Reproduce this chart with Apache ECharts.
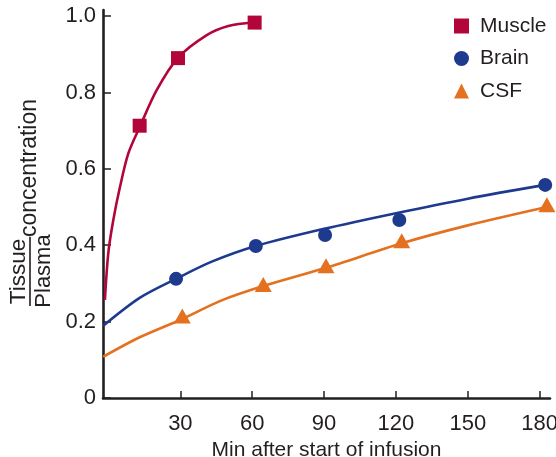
<!DOCTYPE html>
<html>
<head>
<meta charset="utf-8">
<script src="https://cdn.jsdelivr.net/npm/echarts@6/dist/echarts.min.js"></script>
<style>
html,body{margin:0;padding:0;background:#fff;}
#chart{width:556px;height:457px;}
</style>
</head>
<body>
<div id="chart"></div>
<script>
// ---- data ----
const xTicks = [30, 60, 90, 120, 150, 180];
const yTicks = [0, 0.2, 0.4, 0.6, 0.8, 1.0];

const muscleMin = [13, 29, 61];
const muscleVal = [0.713, 0.89, 0.983];
const brainMin = [28.2, 61.5, 90.4, 121.4, 182.3];
const brainVal = [0.312, 0.398, 0.427, 0.466, 0.558];
const csfMin = [30.8, 64.6, 90.8, 122.4, 183];
const csfVal = [0.215, 0.297, 0.346, 0.412, 0.506];

// fitted curves
const muscleCurveMin = [-1.5, -0.1, 2, 4.8, 8.3, 13.2, 20.1, 28.9, 41, 50, 60.8];
const muscleCurveVal = [0.257, 0.379, 0.466, 0.553, 0.641, 0.712, 0.806, 0.89, 0.95, 0.974, 0.984];
const brainCurveMin = [-2.2, 13, 28.2, 43.1, 61.5, 90, 120, 150, 182.3];
const brainCurveVal = [0.189, 0.262, 0.312, 0.357, 0.398, 0.443, 0.484, 0.522, 0.558];
const csfCurveMin = [-2.2, 13, 30.8, 47, 64.6, 90.8, 122.4, 150, 183];
const csfCurveVal = [0.108, 0.159, 0.207, 0.255, 0.293, 0.341, 0.405, 0.452, 0.5];

const seriesNames = ['Muscle', 'Brain', 'CSF'];
const xName = 'Min after start of infusion';
const yNameTop = 'Tissue';
const yNameBottom = 'Plasma';
const yNameRest = 'concentration';

// ---- styling ----
const FONT = '"Liberation Sans", Arial, Helvetica, sans-serif';
const INK = '#231F20';
const C_MUSCLE = '#B2063B';
const C_BRAIN = '#1E3A8F';
const C_CSF = '#E3711F';

const zip = (a, b) => a.map((v, i) => [v, b[i]]);

const chart = echarts.init(document.getElementById('chart'), null, {renderer: 'canvas'});

function curve(name, color, xs, ys) {
  return {
    name: name, type: 'line', data: zip(xs, ys), showSymbol: false, silent: true,
    smooth: 0.3,
    lineStyle: {color: color, width: 2.6}, itemStyle: {color: color}, z: 2
  };
}
function points(name, color, symbol, size, xs, ys) {
  return {
    name: name, type: 'scatter', data: zip(xs, ys), symbol: symbol, symbolSize: size,
    itemStyle: {color: color, opacity: 1}, z: 3
  };
}

chart.setOption({
  animation: false,
  backgroundColor: '#fff',
  textStyle: {fontFamily: FONT, color: INK},
  grid: {left: 103, right: 6, top: 10, bottom: 59, containLabel: false, outerBoundsMode: 'none'},
  legend: {
    orient: 'vertical', left: 454, top: 15, padding: 0, align: 'left',
    itemWidth: 15, itemHeight: 15, itemGap: 10.5,
    data: [
      {name: seriesNames[0], icon: 'rect'},
      {name: seriesNames[1], icon: 'circle'},
      {name: seriesNames[2], icon: 'triangle'}
    ],
    textStyle: {fontFamily: FONT, fontSize: 21, color: INK, lineHeight: 22, padding: [0, 0, 0, 6]}
  },
  xAxis: {
    type: 'value', min: -2.3, max: 184.3,
    name: xName, nameLocation: 'middle', nameGap: 32.5,
    nameTextStyle: {fontFamily: FONT, fontSize: 21, color: INK},
    axisLine: {show: true, onZero: false, lineStyle: {color: INK, width: 2.6}},
    axisTick: {show: true, inside: true, length: 7, customValues: xTicks, lineStyle: {color: INK, width: 1.5}},
    axisLabel: {show: true, margin: 14.5, fontSize: 22, color: INK, fontFamily: FONT, customValues: xTicks},
    splitLine: {show: false}
  },
  yAxis: {
    type: 'value', min: 0, max: 1.016,
    axisLine: {show: true, onZero: false, lineStyle: {color: INK, width: 2.6}},
    axisTick: {show: true, inside: true, length: 8, customValues: yTicks, lineStyle: {color: INK, width: 1.5}},
    axisLabel: {
      show: true, margin: 7, fontSize: 22, color: INK, fontFamily: FONT, customValues: yTicks,
      formatter: v => (Math.abs(v) < 1e-9 ? '0' : v.toFixed(1))
    },
    splitLine: {show: false}
  },
  graphic: [
    {type: 'text', x: 19, y: 271.5, rotation: Math.PI / 2,
     style: {text: yNameTop, fontFamily: FONT, fontSize: 22.5, fill: INK, align: 'center', verticalAlign: 'middle'}},
    {type: 'text', x: 44, y: 271, rotation: Math.PI / 2,
     style: {text: yNameBottom, fontFamily: FONT, fontSize: 22, fill: INK, align: 'center', verticalAlign: 'middle'}},
    {type: 'line', shape: {x1: 30, y1: 236.7, x2: 30, y2: 306}, style: {stroke: INK, lineWidth: 1.6}},
    {type: 'text', x: 30, y: 168, rotation: Math.PI / 2,
     style: {text: yNameRest, fontFamily: FONT, fontSize: 23, fill: INK, align: 'center', verticalAlign: 'middle'}}
  ],
  series: [
    curve('Muscle curve', C_MUSCLE, muscleCurveMin, muscleCurveVal),
    curve('Brain curve', C_BRAIN, brainCurveMin, brainCurveVal),
    curve('CSF curve', C_CSF, csfCurveMin, csfCurveVal),
    points(seriesNames[0], C_MUSCLE, 'rect', 14, muscleMin, muscleVal),
    points(seriesNames[1], C_BRAIN, 'circle', 14, brainMin, brainVal),
    points(seriesNames[2], C_CSF, 'triangle', [17, 15], csfMin, csfVal)
  ]
});
</script>
</body>
</html>
